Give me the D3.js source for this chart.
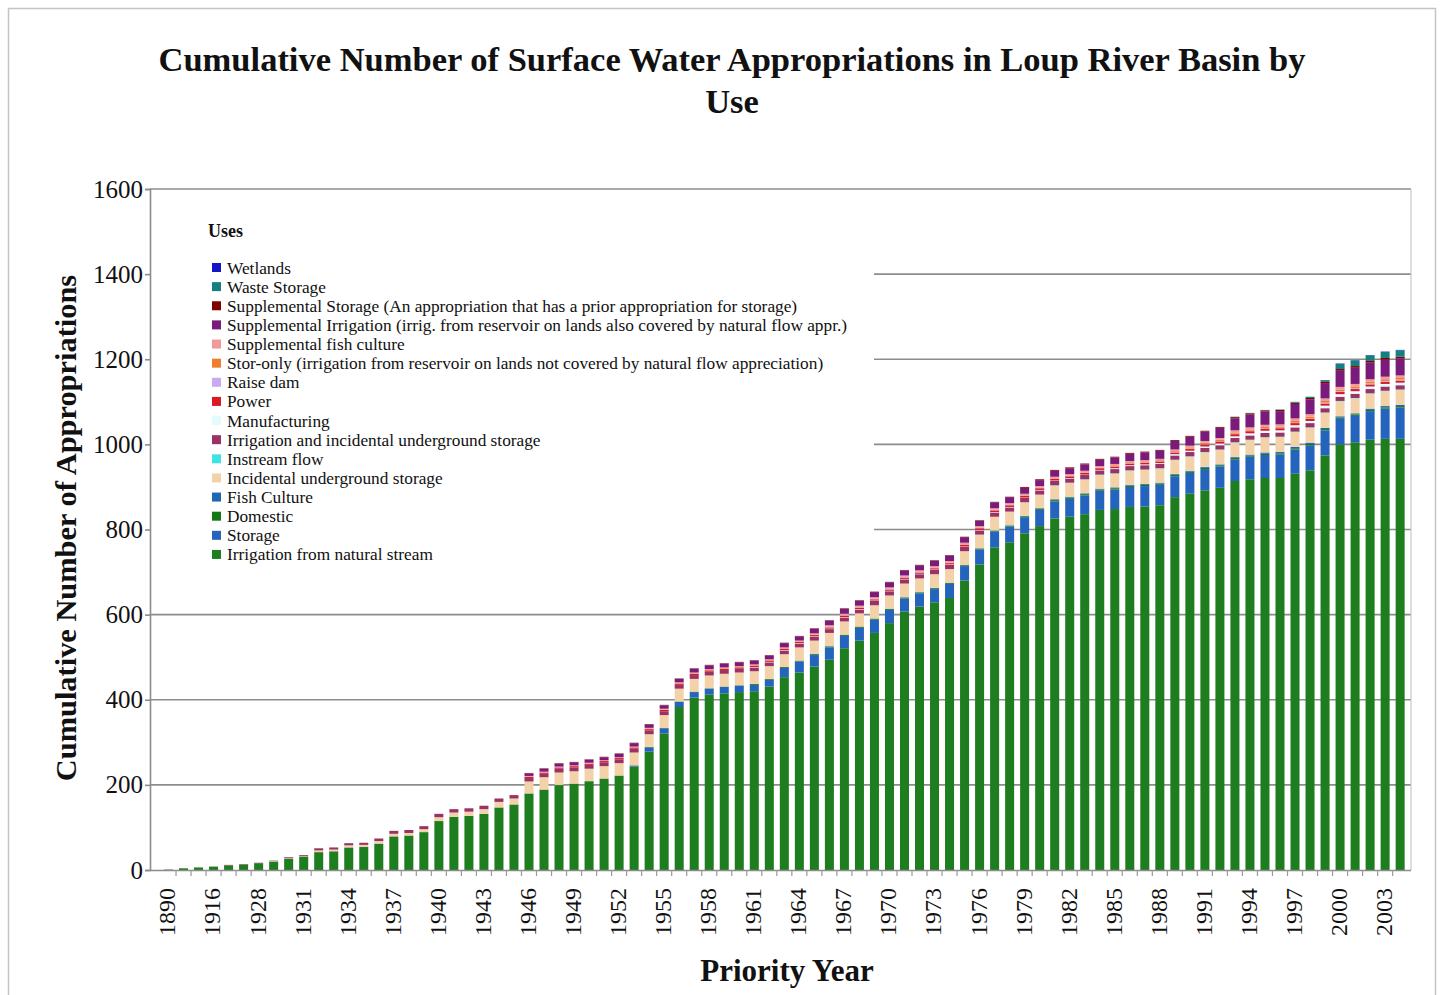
<!DOCTYPE html>
<html>
<head>
<meta charset="utf-8">
<script src="https://cdn.jsdelivr.net/npm/d3@7"></script>
<style>
  body { margin: 0; background: #ffffff; }
  svg text { font-family: "Liberation Serif", "Times New Roman", serif; fill: #111; }
</style>
</head>
<body>
<svg id="chart" width="1443" height="995"></svg>
<script>
// Priority years (categories along the x axis)
const categories = [
  "1890","1905","1912","1916","1921","1925",
  "1928","1929","1930","1931","1932","1933","1934","1935","1936","1937","1938","1939",
  "1940","1941","1942","1943","1944","1945","1946","1947","1948","1949",
  "1950","1951","1952","1953","1954","1955","1956","1957","1958","1959",
  "1960","1961","1962","1963","1964","1965","1966","1967","1968","1969",
  "1970","1971","1972","1973","1974","1975","1976","1977","1978","1979",
  "1980","1981","1982","1983","1984","1985","1986","1987","1988","1989",
  "1990","1991","1992","1993","1994","1995","1996","1997","1998","1999",
  "2000","2001","2002","2003","2004"
];

// Year labels printed under the axis
const tickLabels = [
  "1890","1916","1928","1931","1934","1937","1940","1943","1946","1949","1952","1955",
  "1958","1961","1964","1967","1970","1973","1976","1979","1982","1985","1988","1991",
  "1994","1997","2000","2003"
];

const yTicks = [0, 200, 400, 600, 800, 1000, 1200, 1400, 1600];

// Cumulative counts per use (one value per category)
const irrigationNaturalStream = [
  1,4,6,8,11,13,16,20,27,32,42,44,53,54,62,79,81,89,115,125,127,132,147,154,
  179,188,199,202,208,214,221,243,278,321,383,405,412,415,418,420,431,453,464,478,
  494,521,539,557,580,607,619,629,639,680,718,758,770,791,808,826,830,836,846,848,
  853,854,857,876,884,892,898,914,918,921,921,931,939,974,1000,1005,1011,1013,1013
];
const storage = [
  0,0,0,0,0,0,0,0,0,0,0,0,0,0,0,0,0,0,0,0,0,0,0,0,
  0,0,0,0,0,0,0,2,10,12,12,13,14,15,15,15,16,22,26,27,
  29,29,30,31,31,31,31,31,33,34,35,37,37,38,38,40,42,44,45,46,
  47,48,48,49,49,50,50,51,53,54,55,57,59,59,60,62,67,71,74
];
const domestic = [
  0,0,0,0,0,0,0,0,0,0,0,0,0,0,0,0,0,0,0,0,0,0,0,0,
  1,1,1,1,1,1,1,1,1,1,1,1,1,1,1,2,2,2,2,2,
  2,2,2,2,2,2,2,2,2,2,2,2,2,2,2,3,3,3,3,3,
  3,3,3,3,3,3,3,3,3,3,3,3,3,3,3,3,3,3,3
];
const fishCulture = [
  0,0,0,0,0,0,0,0,0,0,0,0,0,0,0,0,0,0,0,0,0,0,0,0,
  0,0,0,0,0,0,0,0,0,0,0,0,0,0,0,0,0,0,0,1,
  1,1,1,1,1,1,1,1,1,1,1,1,1,1,2,2,2,2,2,2,
  2,2,2,2,2,2,2,2,2,3,3,3,3,3,3,3,3,3,3
];
const incidentalUnderground = [
  0,0,0,0,0,0,0,1,1,1,4,4,5,5,6,6,6,7,9,10,10,11,13,14,
  28,29,29,29,29,29,29,30,30,30,30,30,30,30,30,30,30,30,31,31,
  31,31,31,31,31,32,32,32,32,32,32,32,32,32,32,32,32,32,32,32,
  33,33,33,33,33,34,34,34,34,35,35,35,35,35,35,35,35,35,35
];
const instreamFlow = [
  0,0,0,0,0,0,0,0,0,0,0,0,0,0,0,0,0,0,0,0,0,0,0,0,
  0,0,0,0,0,0,0,0,0,0,0,0,0,0,0,0,0,0,0,0,
  0,0,0,0,0,0,0,0,0,0,0,0,0,0,0,1,1,1,1,1,
  1,1,1,1,1,1,1,1,1,1,1,1,1,1,1,1,1,1,1
];
const irrigationIncidental = [
  0,0,0,0,1,1,1,1,2,2,5,5,5,5,6,7,7,7,8,8,8,8,8,8,
  8,8,9,9,9,9,9,9,9,9,9,9,9,9,9,9,9,9,9,9,
  9,9,9,10,10,10,10,10,10,10,10,10,10,10,10,10,10,10,10,10,
  10,10,10,10,10,10,10,10,10,10,10,10,10,10,10,10,10,10,10
];
const manufacturing = [
  0,0,0,0,0,0,0,0,0,0,0,0,0,0,0,0,0,0,0,0,0,0,0,0,
  0,0,0,0,0,0,0,0,0,0,0,0,0,0,0,1,1,1,1,1,
  1,1,1,1,1,1,1,1,1,1,1,1,1,1,1,1,1,1,1,2,
  2,2,2,3,3,3,4,4,5,5,5,5,5,6,6,6,6,6,6
];
const power = [
  0,0,0,0,0,0,0,0,0,0,0,0,0,0,0,0,0,0,0,0,0,0,0,0,
  3,3,3,3,3,3,3,3,3,3,3,3,3,3,3,3,3,3,3,3,
  3,3,3,3,3,3,3,3,3,4,4,4,4,4,4,4,4,4,4,4,
  4,4,4,4,4,5,5,5,5,5,5,5,5,5,5,5,5,5,5
];
const raiseDam = [
  0,0,0,0,0,0,0,0,0,0,0,0,0,0,0,0,0,0,0,0,0,0,0,0,
  0,0,0,0,0,0,0,0,0,0,0,0,0,0,0,0,0,0,0,0,
  1,1,1,1,1,1,1,1,1,1,1,1,1,1,1,1,1,1,1,1,
  1,1,1,1,1,1,1,1,1,1,1,1,1,2,2,2,2,2,2
];
const storOnly = [
  0,0,0,0,0,0,0,0,0,0,0,0,0,0,0,0,0,0,0,0,0,0,0,0,
  0,0,0,0,0,0,0,0,1,1,1,1,1,1,1,1,1,1,1,1,
  1,1,1,1,1,1,1,1,1,1,1,1,1,1,1,1,1,1,1,2,
  2,2,2,2,3,3,3,3,3,3,3,4,4,4,4,4,4,4,4
];
const supplementalFishCulture = [
  0,0,0,0,0,0,0,0,0,0,0,0,0,0,0,0,0,0,0,0,0,0,0,0,
  2,2,2,2,2,2,2,2,2,2,2,2,2,2,2,2,2,2,2,3,
  3,3,3,3,3,3,3,3,3,3,3,3,3,3,3,3,3,3,3,3,
  3,3,3,4,4,4,4,5,5,5,5,6,6,6,6,6,6,6,6
];
const supplementalIrrigation = [
  0,0,0,0,0,0,0,0,0,0,0,0,0,0,0,0,0,0,0,0,0,0,0,0,
  6,7,7,7,7,7,8,8,8,8,8,9,9,9,9,9,9,10,10,11,
  11,12,12,12,12,12,12,13,13,13,13,14,14,14,14,14,14,15,15,15,
  17,18,19,20,21,22,24,28,30,31,31,34,35,36,38,38,39,40,40
];
const supplementalStorage = [
  0,0,0,0,0,0,0,0,0,0,0,0,0,0,0,0,0,0,0,0,0,0,0,0,
  1,1,1,1,1,1,1,1,1,1,1,1,1,1,1,1,1,1,1,1,
  1,1,1,1,1,1,1,1,1,1,1,1,1,2,2,2,2,2,2,2,
  2,2,2,2,2,2,2,3,3,3,3,3,3,4,4,4,4,4,4
];
const wasteStorage = [
  0,0,0,0,0,0,0,0,0,0,0,0,0,0,0,0,0,0,0,0,0,0,0,0,
  0,0,0,0,0,0,0,0,0,0,0,0,0,0,0,0,0,0,0,0,
  0,0,0,0,0,0,0,0,0,0,0,0,0,0,0,0,0,0,0,0,
  0,0,0,0,0,0,0,1,1,1,1,2,3,3,12,13,13,14,15
];
const wetlands = [
  0,0,0,0,0,0,0,0,0,0,0,0,0,0,0,0,0,0,0,0,0,0,0,0,
  0,0,0,0,0,0,0,0,0,0,0,0,0,0,0,0,0,0,0,0,
  0,0,0,0,0,0,0,0,0,0,0,0,0,0,0,0,0,0,0,0,
  0,0,0,0,0,0,0,0,0,0,0,0,0,0,1,1,1,1,1
];

// Uses in stacking order (bottom first)
const uses = [
  { name: "Irrigation from natural stream", color: "#1e7d1e", values: irrigationNaturalStream },
  { name: "Storage", color: "#2564bd", values: storage },
  { name: "Domestic", color: "#137a13", values: domestic },
  { name: "Fish Culture", color: "#1f66b3", values: fishCulture },
  { name: "Incidental underground storage", color: "#f3d2aa", values: incidentalUnderground },
  { name: "Instream flow", color: "#3fe3e3", values: instreamFlow },
  { name: "Irrigation and incidental underground storage", color: "#993366", values: irrigationIncidental },
  { name: "Manufacturing", color: "#e4fbfb", values: manufacturing },
  { name: "Power", color: "#d9182a", values: power },
  { name: "Raise dam", color: "#c9aaf0", values: raiseDam },
  { name: "Stor-only (irrigation from reservoir on lands not covered by natural flow appreciation)", color: "#ee7d2e", values: storOnly },
  { name: "Supplemental fish culture", color: "#f09a9a", values: supplementalFishCulture },
  { name: "Supplemental Irrigation (irrig. from reservoir on lands also covered by natural flow appr.)", color: "#7a1a7a", values: supplementalIrrigation },
  { name: "Supplemental Storage (An appropriation that has a prior appropriation for storage)", color: "#800000", values: supplementalStorage },
  { name: "Waste Storage", color: "#138080", values: wasteStorage },
  { name: "Wetlands", color: "#1414c8", values: wetlands }
];

const svg = d3.select("#chart");
const plot = { left: 150, right: 1411, top: 189, bottom: 870 };

// outer frame
svg.append("rect").attr("x", 8.5).attr("y", 8.5).attr("width", 1427).attr("height", 1000)
  .attr("fill", "#fff").attr("stroke", "#c4c4c4").attr("stroke-width", 1.5);

// title
const title = svg.append("text").attr("text-anchor", "middle")
  .style("font-weight", "bold").style("font-size", "34.5px");
title.append("tspan").attr("x", 732).attr("y", 71)
  .text("Cumulative Number of Surface Water Appropriations in Loup River Basin by");
title.append("tspan").attr("x", 732).attr("y", 113).text("Use");

// scales
const x = d3.scaleBand().domain(categories)
  .range([161, 161 + categories.length * 15.02])
  .paddingInner(0.4).paddingOuter(0.2);
const y = d3.scaleLinear().domain([0, 1600]).range([plot.bottom, plot.top]);

// table rows for the stack
const keys = uses.map(u => u.name);
const rows = categories.map((c, i) => {
  const r = { year: c };
  uses.forEach(u => { r[u.name] = u.values[i]; });
  return r;
});
const stacked = d3.stack().keys(keys)(rows);

// gridlines
svg.append("g").selectAll("line").data(yTicks.filter(v => v > 0)).join("line")
  .attr("x1", plot.left).attr("x2", plot.right)
  .attr("y1", d => y(d)).attr("y2", d => y(d))
  .attr("stroke", "#8c8c8c").attr("stroke-width", 1.6);

// plot frame right edge
svg.append("line").attr("x1", plot.right).attr("x2", plot.right)
  .attr("y1", plot.top).attr("y2", plot.bottom)
  .attr("stroke", "#c8c8c8").attr("stroke-width", 1.2);

// legend background (covers the gridlines behind it)
svg.append("rect").attr("x", plot.left + 1).attr("y", 212).attr("width", 874 - plot.left - 1).attr("height", 362)
  .attr("fill", "#fff");

// bars
const barG = svg.append("g");
stacked.forEach((layer, li) => {
  barG.append("g").attr("fill", uses[li].color)
    .selectAll("rect").data(layer).join("rect")
    .attr("x", d => x(d.data.year))
    .attr("width", x.bandwidth())
    .attr("y", d => y(d[1]))
    .attr("height", d => Math.max(0, y(d[0]) - y(d[1])));
});

// y axis
const yAxis = d3.axisLeft(y).tickValues(yTicks).tickSize(5).tickPadding(2).tickFormat(d3.format("d"));
const gy = svg.append("g").attr("transform", `translate(${plot.left},0)`).call(yAxis);
gy.select(".domain").attr("stroke", "#8c8c8c").attr("stroke-width", 1.6);
gy.selectAll(".tick line").attr("stroke", "#8c8c8c").attr("stroke-width", 1.6);
gy.selectAll(".tick text").style("font-size", "25px").style("font-family", "Liberation Serif, serif").attr("fill", "#111");

// x axis
const xAxis = d3.axisBottom(x).tickSize(0).tickFormat(d => tickLabels.includes(d) ? d : "");
const gx = svg.append("g").attr("transform", `translate(0,${plot.bottom})`).call(xAxis);
gx.select(".domain").attr("d", `M${plot.left},0.5H${plot.right}`)
  .attr("stroke", "#8c8c8c").attr("stroke-width", 1.6);
gx.selectAll(".tick text")
  .style("font-size", "24px").style("font-family", "Liberation Serif, serif")
  .attr("fill", "#111")
  .attr("text-anchor", "end")
  .attr("transform", "translate(-1,18) rotate(-90)")
  .attr("x", 0).attr("y", 0).attr("dy", "0.33em");
// category boundary ticks
svg.append("g").selectAll("line").data(categories.slice(1)).join("line")
  .attr("x1", d => x(d) - x.step() * x.paddingInner() / 2)
  .attr("x2", d => x(d) - x.step() * x.paddingInner() / 2)
  .attr("y1", plot.bottom).attr("y2", plot.bottom + 6)
  .attr("stroke", "#9a9a9a").attr("stroke-width", 1.2);

// axis titles
svg.append("text").attr("transform", "translate(76,528) rotate(-90)")
  .attr("text-anchor", "middle").style("font-weight", "bold").style("font-size", "30.4px")
  .text("Cumulative Number of Appropriations");
svg.append("text").attr("x", 787).attr("y", 981)
  .attr("text-anchor", "middle").style("font-weight", "bold").style("font-size", "31px")
  .text("Priority Year");

// legend (reverse of stacking order)
const legend = svg.append("g");
legend.append("text").attr("x", 208).attr("y", 237)
  .style("font-weight", "bold").style("font-size", "18px").text("Uses");
const legendItems = uses.slice().reverse();
const li = legend.selectAll("g.item").data(legendItems).join("g")
  .attr("class", "item")
  .attr("transform", (d, i) => `translate(212,${268 + i * 19.13})`);
li.append("rect").attr("x", 0).attr("y", -5).attr("width", 9).attr("height", 9)
  .attr("fill", d => d.color);
li.append("text").attr("x", 15).attr("y", 5.5).style("font-size", "17.3px").text(d => d.name);
</script>
</body>
</html>
